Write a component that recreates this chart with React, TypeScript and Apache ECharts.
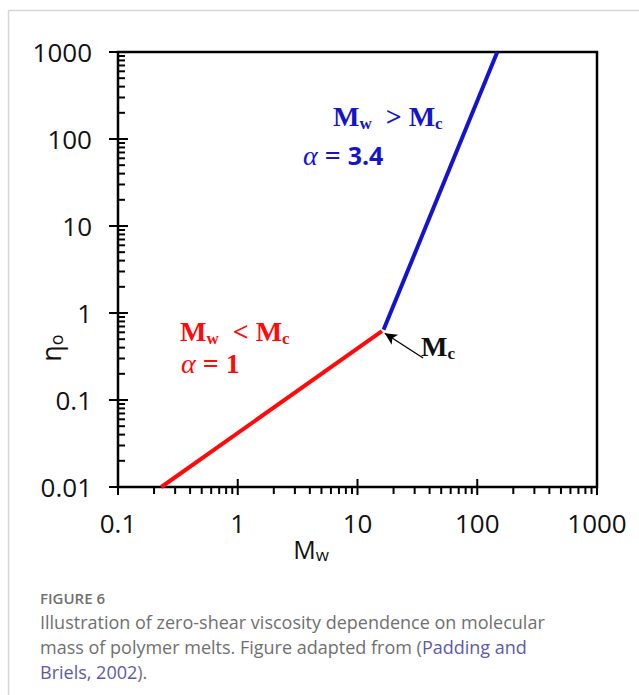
import React, { useEffect, useRef } from "react";
import * as echarts from "echarts";

// Axis ranges and tick labels
const X_MIN = 0.1;
const X_MAX = 1000;
const Y_MIN = 0.01;
const Y_MAX = 1000;
const xMajorTicks = [0.1, 1, 10, 100, 1000];
const xTickLabels = ["0.1", "1", "10", "100", "1000"];
const yMajorTicks = [0.01, 0.1, 1, 10, 100, 1000];
const yTickLabels = ["0.01", "0.1", "1", "10", "100", "1000"];
const minorSteps = [2, 3, 4, 5, 6, 7, 8, 9];
const xDecades = [0.1, 1, 10, 100];
const yDecades = [0.01, 0.1, 1, 10, 100];

// Viscosity regimes: below and above the critical mass Mc
const belowMcMw = [0.23, 16];
const belowMcEta = [0.01, 0.62];
const aboveMcMw = [16.5, 147];
const aboveMcEta = [0.64, 1000];

// Arrow pointing at Mc (tail, head)
const arrowMw = [35.3, 16.9];
const arrowEta = [0.304, 0.585];

const RED = "#ff0a0a";
const BLUE = "#1414cc";
const SANS = "'Open Sans', 'Liberation Sans', sans-serif";
const SERIF = "'Liberation Serif', 'Times New Roman', serif";
const CAPTION = "#707070";
const LINK = "#5b5aa8";

const minorOf = (decades: number[]) =>
  decades.flatMap((d) => minorSteps.map((s) => s * d));

const labelFor = (ticks: number[], labels: string[]) => (v: number) => {
  let best = 0;
  ticks.forEach((t, i) => {
    if (Math.abs(Math.log10(t) - Math.log10(v)) < Math.abs(Math.log10(ticks[best]) - Math.log10(v))) best = i;
  });
  return labels[best];
};

// Tick marks drawn through the axes' scales; inner = into the plot, outer = away from it
const tickSeries = (dir: "x" | "y", values: number[], inner: number, outer: number) => ({
  type: "custom",
  coordinateSystem: "cartesian2d",
  silent: true,
  clip: false,
  z: 6,
  data: values.map((v) => (dir === "x" ? [v, Y_MIN] : [X_MIN, v])),
  renderItem: (_params: any, api: any) => {
    const p = api.coord([api.value(0), api.value(1)]);
    const shape =
      dir === "x"
        ? { x1: p[0], y1: p[1] - inner, x2: p[0], y2: p[1] + outer }
        : { x1: p[0] - outer, y1: p[1], x2: p[0] + inner, y2: p[1] };
    return { type: "line", shape, style: { stroke: "#000", lineWidth: 2 } };
  },
});

export default function App() {
  const ref = useRef<HTMLDivElement>(null);

  useEffect(() => {
    if (!ref.current) return;
    const chart = echarts.init(ref.current, undefined, { renderer: "svg" });

    const subRich = (color: string, size: number, sub: number) => ({
      m: { fontFamily: SERIF, fontWeight: "bold", fontSize: size, fill: color, lineHeight: 32 },
      s: { fontFamily: SERIF, fontWeight: "bold", fontSize: sub, fill: color, lineHeight: 17, verticalAlign: "bottom" },
      a: { fontFamily: SERIF, fontStyle: "italic", fontSize: size, fill: color, lineHeight: 32 },
      n: { fontFamily: SANS, fontWeight: "bold", fontSize: size - 3, fill: color, lineHeight: 32 },
    });

    const captionRich = {
      t: { fontFamily: SANS, fontSize: 18, fill: CAPTION },
      l: { fontFamily: SANS, fontSize: 18, fill: LINK },
    };

    chart.setOption({
      animation: false,
      backgroundColor: "#ffffff",
      grid: {
        left: 118,
        top: 52,
        width: 479,
        height: 435,
        show: true,
        borderColor: "#000",
        borderWidth: 2.5,
        backgroundColor: "transparent",
      },
      xAxis: {
        type: "log",
        logBase: 10,
        min: X_MIN,
        max: X_MAX,
        axisLine: { show: false },
        axisTick: { show: false },
        splitLine: { show: false },
        axisLabel: {
          margin: 23,
          fontFamily: SANS,
          fontSize: 26,
          color: "#111",
          formatter: labelFor(xMajorTicks, xTickLabels),
        },
      },
      yAxis: {
        type: "log",
        logBase: 10,
        min: Y_MIN,
        max: Y_MAX,
        axisLine: { show: false },
        axisTick: { show: false },
        splitLine: { show: false },
        axisLabel: {
          margin: 26,
          fontFamily: SANS,
          fontSize: 26,
          color: "#111",
          formatter: labelFor(yMajorTicks, yTickLabels),
        },
      },
      series: [
        {
          type: "line",
          data: belowMcMw.map((x, i) => [x, belowMcEta[i]]),
          showSymbol: false,
          lineStyle: { color: RED, width: 4 },
          z: 3,
        },
        {
          type: "line",
          data: aboveMcMw.map((x, i) => [x, aboveMcEta[i]]),
          showSymbol: false,
          lineStyle: { color: BLUE, width: 4 },
          z: 3,
          markLine: {
            silent: true,
            symbol: ["none", "arrow"],
            symbolSize: [9, 12],
            label: { show: false },
            lineStyle: { color: "#000", width: 1.3, type: "solid" },
            data: [
              [
                { coord: [arrowMw[0], arrowEta[0]] },
                { coord: [arrowMw[1], arrowEta[1]] },
              ],
            ],
          },
        },
        tickSeries("x", xMajorTicks, 8, 8),
        tickSeries("x", minorOf(xDecades), 0, 7),
        tickSeries("y", yMajorTicks, 10, 9),
        tickSeries("y", minorOf(yDecades), 7, 0),
      ],
      graphic: [
        // card outline
        { type: "line", shape: { x1: 8.5, y1: 10.5, x2: 639, y2: 10.5 }, style: { stroke: "#d6d6d6", lineWidth: 1.5 } },
        { type: "line", shape: { x1: 8.5, y1: 10.5, x2: 8.5, y2: 695 }, style: { stroke: "#d6d6d6", lineWidth: 1.5 } },
        // axis names
        {
          type: "text",
          x: 311,
          y: 549,
          style: {
            text: "{m|M}{s|w}",
            align: "center",
            verticalAlign: "middle",
            rich: {
              m: { fontFamily: SANS, fontSize: 25, fill: "#111", lineHeight: 28 },
              s: { fontFamily: SANS, fontSize: 17, fill: "#111", lineHeight: 16, verticalAlign: "bottom" },
            },
          },
        },
        {
          type: "text",
          x: 50,
          y: 348,
          rotation: Math.PI / 2,
          style: {
            text: "{m|η}{s|o}",
            align: "center",
            verticalAlign: "middle",
            rich: {
              m: { fontFamily: SANS, fontSize: 27, fill: "#111", lineHeight: 30 },
              s: { fontFamily: SANS, fontSize: 18, fill: "#111", lineHeight: 16, verticalAlign: "bottom" },
            },
          },
        },
        // regime annotations
        {
          type: "text",
          x: 180,
          y: 331,
          style: { text: "{m|M}{s|w}{m|  < M}{s|c}", verticalAlign: "middle", rich: subRich(RED, 28, 17) },
        },
        {
          type: "text",
          x: 181,
          y: 363,
          style: { text: "{a|α}{m| = 1}", verticalAlign: "middle", rich: subRich(RED, 28, 17) },
        },
        {
          type: "text",
          x: 333,
          y: 116,
          style: { text: "{m|M}{s|w}{m|  > M}{s|c}", verticalAlign: "middle", rich: subRich(BLUE, 28, 17) },
        },
        {
          type: "text",
          x: 303,
          y: 155,
          style: { text: "{a|α}{m| = }{n|3.4}", verticalAlign: "middle", rich: subRich(BLUE, 28, 17) },
        },
        {
          type: "text",
          x: 421,
          y: 346,
          style: { text: "{m|M}{s|c}", verticalAlign: "middle", rich: subRich("#111", 28, 17) },
        },
        // caption
        {
          type: "text",
          x: 40,
          y: 598,
          style: {
            text: "FIGURE 6",
            fontFamily: SANS,
            fontWeight: 600,
            fontSize: 15,
            fill: CAPTION,
            verticalAlign: "middle",
          },
        },
        {
          type: "text",
          x: 40,
          y: 622,
          style: {
            text: "Illustration of zero-shear viscosity dependence on molecular",
            fontFamily: SANS,
            fontSize: 18,
            fill: CAPTION,
            verticalAlign: "middle",
          },
        },
        {
          type: "text",
          x: 40,
          y: 647,
          style: {
            text: "{t|mass of polymer melts. Figure adapted from (}{l|Padding and}",
            verticalAlign: "middle",
            rich: captionRich,
          },
        },
        {
          type: "text",
          x: 40,
          y: 672,
          style: {
            text: "{l|Briels, 2002}{t|).}",
            verticalAlign: "middle",
            rich: captionRich,
          },
        },
      ],
    });

    return () => chart.dispose();
  }, []);

  return (
    <div
      ref={ref}
      style={{ position: "absolute", left: 0, top: 0, width: 639, height: 695, background: "#fff" }}
    />
  );
}
